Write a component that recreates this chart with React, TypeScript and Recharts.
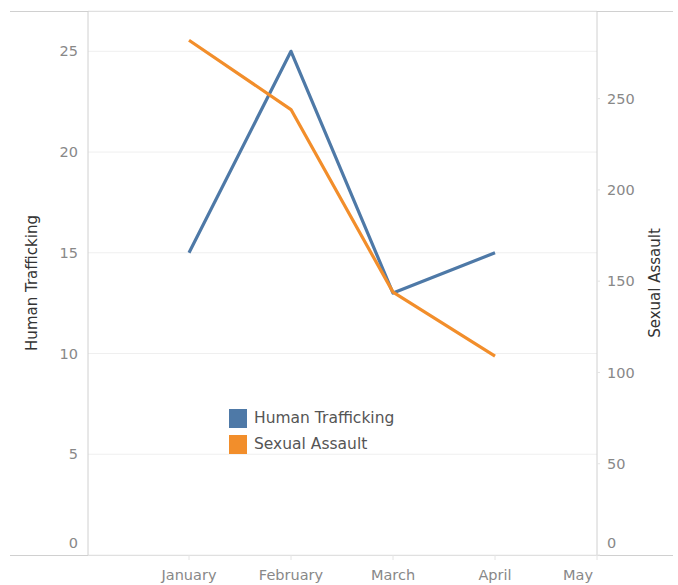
import React from "react";
import { LineChart, Line, XAxis, YAxis, CartesianGrid, Legend } from "recharts";

const months = ["January", "February", "March", "April", "May"];
const humanTrafficking = [15, 25, 13, 15, null];
const sexualAssault = [282, 244, 144, 109, null];
const leftTicks = [0, 5, 10, 15, 20, 25];
const rightTicks = [0, 50, 100, 150, 200, 250];

const data = months.map((month, i) => ({
  month,
  ht: humanTrafficking[i],
  sa: sexualAssault[i],
}));

const FONT = "'DejaVu Sans', sans-serif";
const BLUE = "#4e79a7";
const ORANGE = "#f28e2b";
const AXIS = "#d0d0d0";

const YTick = (props: any) => {
  const { x, y, payload, textAnchor } = props;
  const shift = payload.value === 0 ? -12 : 0;
  return (
    <text
      x={x}
      y={y + shift}
      dy="0.35em"
      textAnchor={textAnchor}
      fill="#888"
      fontSize={14.5}
      fontFamily={FONT}
    >
      {payload.value}
    </text>
  );
};

const XTick = (props: any) => {
  const { x, y, payload, index } = props;
  const last = index === months.length - 1;
  return (
    <text
      x={last ? x - 4 : x}
      y={y}
      dy={18}
      textAnchor={last ? "end" : "middle"}
      fill="#888"
      fontSize={14.5}
      fontFamily={FONT}
    >
      {payload.value}
    </text>
  );
};

const axisTitle = (text: string, offsetX: number) => (props: any) => {
  const { viewBox } = props;
  const cx = viewBox.x + offsetX;
  const cy = viewBox.y + viewBox.height / 2;
  return (
    <text
      x={cx}
      y={cy}
      transform={`rotate(-90 ${cx} ${cy})`}
      textAnchor="middle"
      dominantBaseline="middle"
      fill="#333"
      fontSize={15}
      fontFamily={FONT}
    >
      {text}
    </text>
  );
};

const LegendBox = () => (
  <div style={{ fontFamily: FONT, fontSize: 15.5, color: "#555" }}>
    {[
      { name: "Human Trafficking", color: BLUE },
      { name: "Sexual Assault", color: ORANGE },
    ].map((item) => (
      <div
        key={item.name}
        style={{ display: "flex", alignItems: "center", height: 26 }}
      >
        <span
          style={{
            display: "inline-block",
            width: 18,
            height: 19,
            background: item.color,
            marginRight: 7,
          }}
        />
        {item.name}
      </div>
    ))}
  </div>
);

export default function App() {
  return (
    <div
      style={{
        position: "absolute",
        left: 0,
        top: 0,
        width: 678,
        height: 585,
        background: "#fff",
      }}
    >
      <div
        style={{
          position: "absolute",
          left: 10,
          top: 11,
          width: 663,
          height: 1,
          background: AXIS,
        }}
      />
      <div
        style={{
          position: "absolute",
          left: 10,
          top: 555,
          width: 663,
          height: 1,
          background: AXIS,
        }}
      />
      <LineChart
        width={678}
        height={585}
        data={data}
        margin={{ top: 11, right: 0, bottom: 0, left: 0 }}
        style={{ position: "absolute", left: 0, top: 0 }}
      >
        <CartesianGrid
          yAxisId="left"
          vertical={false}
          stroke="#efefef"
          strokeWidth={1}
        />
        <XAxis
          dataKey="month"
          height={30}
          padding={{ left: 101, right: 0 }}
          axisLine={false}
          tickLine={{ stroke: "#e4e4e4" }}
          tickSize={5}
          tickMargin={2}
          tick={<XTick />}
          interval={0}
        />
        <YAxis
          yAxisId="left"
          width={88}
          domain={[0, 27]}
          ticks={leftTicks}
          axisLine={{ stroke: AXIS }}
          tickLine={false}
          tickSize={0}
          tickMargin={10}
          tick={<YTick />}
          label={{ content: axisTitle("Human Trafficking", 32) }}
        />
        <YAxis
          yAxisId="right"
          orientation="right"
          width={81}
          domain={[0, 298]}
          ticks={rightTicks}
          axisLine={{ stroke: AXIS }}
          tickLine={{ stroke: "#e4e4e4" }}
          tickSize={3}
          tickMargin={7}
          tick={<YTick />}
          label={{ content: axisTitle("Sexual Assault", 58) }}
        />
        <Legend
          layout="vertical"
          align="center"
          verticalAlign="middle"
          content={<LegendBox />}
          wrapperStyle={{ position: "absolute", left: 229, top: 405, width: "auto", height: "auto" }}
        />
        <Line
          yAxisId="left"
          dataKey="ht"
          name="Human Trafficking"
          stroke={BLUE}
          strokeWidth={3.2}
          dot={false}
          activeDot={false}
          strokeLinejoin="round"
          isAnimationActive={false}
        />
        <Line
          yAxisId="right"
          dataKey="sa"
          name="Sexual Assault"
          stroke={ORANGE}
          strokeWidth={3.2}
          dot={false}
          activeDot={false}
          strokeLinejoin="round"
          isAnimationActive={false}
        />
      </LineChart>
    </div>
  );
}
